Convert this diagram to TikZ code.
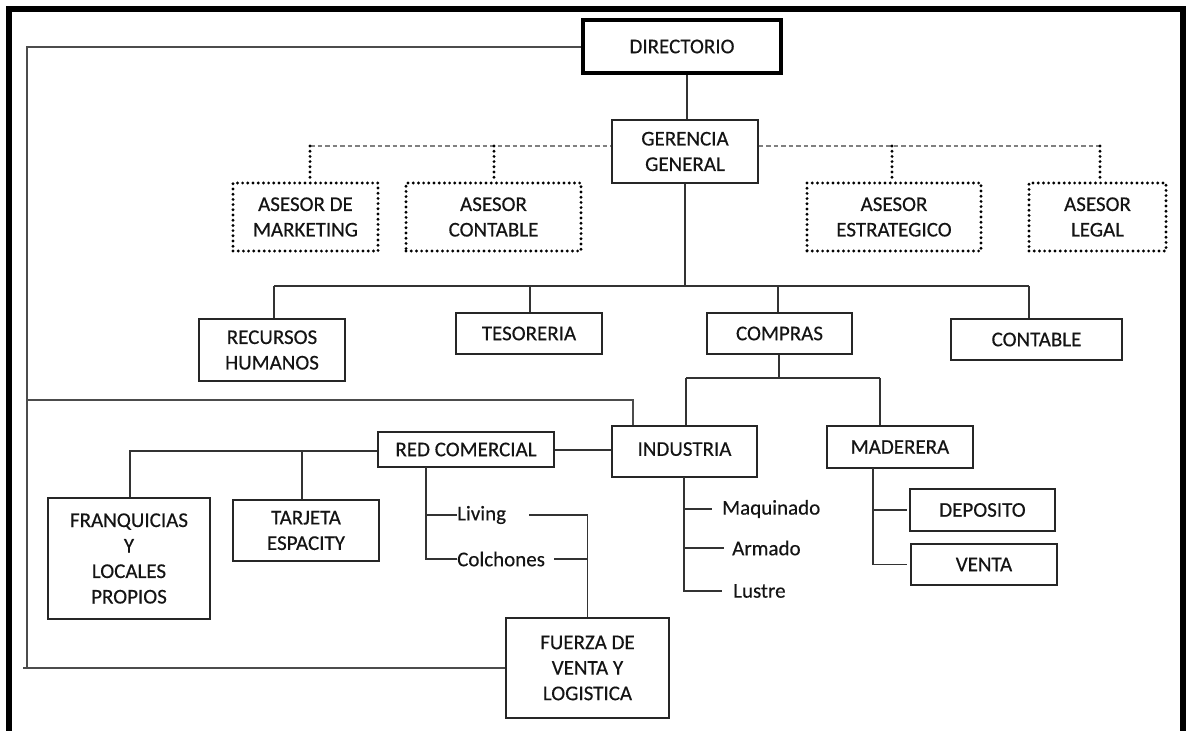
\documentclass[tikz,border=0pt]{standalone}
\usepackage{fontspec}
\setmainfont{Carlito}
\newfontfamily\lblfont{Carlito}[FakeBold=0.35]
\begin{document}
\begin{tikzpicture}[x=1pt,y=-1pt,
  txt/.style={text=black!92,font=\lblfont\fontsize{21}{25.5}\selectfont},
  box/.style={txt,draw=black!85,line width=1.4pt,fill=white,inner sep=0pt,align=center},
  topbox/.style={box,draw=black,line width=3.8pt},
  advbox/.style={box,draw=black,line width=3.2pt,dash pattern=on 0pt off 5.2pt,line cap=round},
  link/.style={draw=black!80,line width=1.4pt},
  outer/.style={draw=black!70,line width=1.5pt},
  staff/.style={draw=black!50,line width=2.2pt,dash pattern=on 4.5pt off 3pt},
  dotlink/.style={draw=black,line width=3.2pt,dash pattern=on 0pt off 5.2pt,line cap=round},
  leaf/.style={txt,anchor=west,inner ysep=0pt,inner xsep=0pt,align=left}
]
\useasboundingbox (0,0) rectangle (1186,731);

% page frame
\fill[black] (6,6) rectangle (1186,12);
\fill[black] (6,6) rectangle (12,731);
\fill[black] (1180,6) rectangle (1186,731);

% top levels
\node[topbox,minimum width=198pt,minimum height=53pt] (dir) at (682,46.5) {DIRECTORIO};
\node[box,minimum width=146pt,minimum height=63pt] (ger) at (685,151.5) {GERENCIA\\GENERAL};

% advisors
\node[advbox,minimum width=145pt,minimum height=68pt] (am) at (305.5,217) {ASESOR DE\\MARKETING};
\node[advbox,minimum width=175pt,minimum height=68pt] (ac) at (493.5,217) {ASESOR\\CONTABLE};
\node[advbox,minimum width=174pt,minimum height=68pt] (ae) at (894,217) {ASESOR\\ESTRATEGICO};
\node[advbox,minimum width=137pt,minimum height=68pt] (al) at (1097.5,217) {ASESOR\\LEGAL};

% departments
\node[box,minimum width=146pt,minimum height=62pt] (rh) at (272,350) {RECURSOS\\HUMANOS};
\node[box,minimum width=146pt,minimum height=41pt] (tes) at (529,333.5) {TESORERIA};
\node[box,minimum width=145pt,minimum height=41pt] (com) at (779.5,333.5) {COMPRAS};
\node[box,minimum width=171pt,minimum height=41pt] (cont) at (1036.5,339.5) {CONTABLE};

% purchasing branches
\node[box,minimum width=145pt,minimum height=51pt] (ind) at (684.5,451.5) {\raisebox{5pt}{INDUSTRIA}};
\node[box,minimum width=146pt,minimum height=42pt] (mad) at (900,447) {MADERERA};
\node[box,minimum width=176pt,minimum height=35pt] (red) at (466,449.5) {RED COMERCIAL};

% sales network
\node[box,minimum width=162pt,minimum height=121pt] (fr) at (129,558.5) {FRANQUICIAS\\Y\\LOCALES\\PROPIOS};
\node[box,minimum width=146pt,minimum height=61pt] (tj) at (306,530.5) {TARJETA\\ESPACITY};
\node[box,minimum width=163pt,minimum height=100pt] (fz) at (587.5,668) {FUERZA DE\\VENTA Y\\LOGISTICA};
\node[leaf,text width=72pt] (lv) at (457,515) {Living};
\node[leaf,text width=97pt] (col) at (457,559) {Colchones};

% industry processes
\node[leaf,inner xsep=10pt] (maq) at (712,509) {Maquinado};
\node[leaf,inner xsep=8pt] (arm) at (724,548) {Armado};
\node[leaf,inner xsep=11pt] (lus) at (722,591) {Lustre};

% timber yard
\node[box,minimum width=145pt,minimum height=42pt] (dep) at (982.5,510) {DEPOSITO};
\node[box,minimum width=146pt,minimum height=41pt] (ven) at (984,564.5) {VENTA};

% bus points
\coordinate (dl) at (310,146);
\coordinate (dac) at (494,146);
\coordinate (dae) at (892,146);
\coordinate (dr) at (1100,146);
\coordinate (b1) at (685,286);
\coordinate (b1l) at (274,286);
\coordinate (b1t) at (530,286);
\coordinate (b1c) at (778,286);
\coordinate (b1r) at (1029,286);
\coordinate (b2) at (779,378);
\coordinate (b2l) at (686,378);
\coordinate (b2r) at (880,378);
\coordinate (b3l) at (130,451);
\coordinate (b3t) at (302,451);
\coordinate (rs) at (426,467);
\coordinate (is) at (684,477);
\coordinate (ms) at (873,468);
\coordinate (lc) at (27,47);
\coordinate (lb) at (27,667);
\coordinate (lstub) at (23,668);
\coordinate (lm) at (27,400);
\coordinate (lmr) at (633,400);

% outer loop from the board
\draw[outer] (dir.west |- lc) -- (lc) -- (lb);
\draw[outer] (lstub) -- (fz.west);
\draw[outer] (lm) -- (lmr) -- (lmr |- ind.north);

% board to general management
\draw[link] (dir.south -| 687,0) -- (ger.north -| 687,0);

% staff line
\draw[staff] (dl) -- (ger.west |- dl);
\draw[staff] (ger.east |- dr) -- (dr);
\draw[dotlink] (dl) -- (dl |- am.north);
\draw[dotlink] (dac) -- (dac |- ac.north);
\draw[dotlink] (dae) -- (dae |- ae.north);
\draw[dotlink] (dr) -- (dr |- al.north);

% line departments
\draw[link] (ger.south) -- (b1);
\draw[link] (b1l) -- (b1r);
\draw[link] (b1l) -- (b1l |- rh.north);
\draw[link] (b1t) -- (b1t |- tes.north);
\draw[link] (b1c) -- (b1c |- com.north);
\draw[link] (b1r) -- (b1r |- cont.north);

% purchasing
\draw[link] (com.south -| b2) -- (b2);
\draw[link] (b2l) -- (b2r);
\draw[link] (b2l) -- (b2l |- ind.north);
\draw[link] (b2r) -- (b2r |- mad.north);

% commercial network
\draw[link] (red.east |- 0,450) -- (ind.west |- 0,450);
\draw[link] (red.west |- b3l) -- (b3l) -- (b3l |- fr.north);
\draw[link] (b3t) -- (b3t |- tj.north);
\draw[link] (rs) |- (col.west);
\draw[link] (rs |- lv.west) -- (lv.west);
\draw[link] (lv.east) -| (fz.north);
\draw[link] (col.east) -- (col.east -| fz.north);

% industry processes
\draw[link] (is) |- (lus.west);
\draw[link] (is |- maq.west) -- (maq.west);
\draw[link] (is |- arm.west) -- (arm.west);

% timber yard
\draw[link] (ms) |- (ven.west -| 907,0);
\draw[link] (ms |- dep.west) -- (dep.west -| 907,0);
\end{tikzpicture}
\end{document}
